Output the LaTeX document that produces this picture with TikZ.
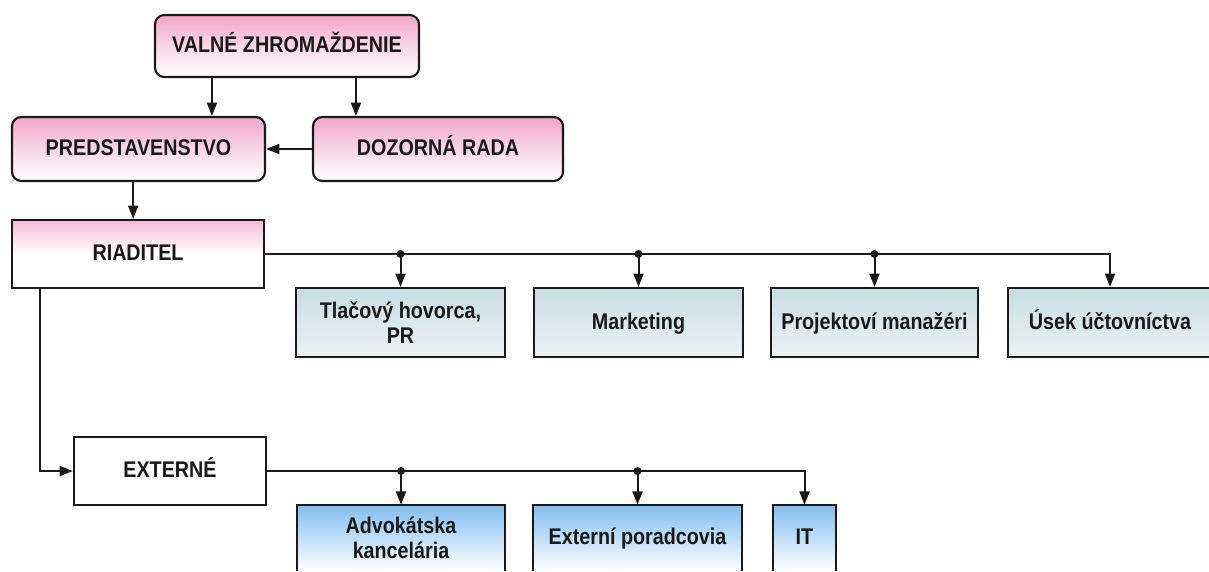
\documentclass[tikz,border=0pt]{standalone}
\usepackage{fontspec}
\setmainfont{Liberation Sans}[FakeStretch=0.87]
\usetikzlibrary{arrows.meta}
\definecolor{pinkA}{RGB}{240,165,200}
\definecolor{cyanA}{RGB}{198,222,228}
\definecolor{cyanB}{RGB}{236,242,243}
\definecolor{blueA}{RGB}{130,190,240}
\definecolor{ink}{RGB}{25,25,25}
\begin{document}
\begin{tikzpicture}[x=0.75pt,y=-0.75pt,
  font=\bfseries\fontsize{17}{19}\selectfont,
  bx/.style 2 args={minimum width=#1*0.75pt, minimum height=#2*0.75pt, inner sep=0pt, align=center, text=ink},
  one/.style={text height=1.0em, text depth=0em},
  boxline/.style={draw=ink, line width=1.6pt},
  pinkbox/.style={boxline, rounded corners=7pt, top color=pinkA, bottom color=white, middle color=pinkA!45},
  riadbox/.style={boxline, top color=pinkA!75, bottom color=white, middle color=white},
  cyanbox/.style={boxline, top color=cyanA, bottom color=cyanB},
  bluebox/.style={top color=blueA, bottom color=white},
  plainbox/.style={boxline, fill=white},
  conn/.style={draw=ink, line width=1.5pt},
  arr/.style={conn, -{Triangle[length=10pt,width=7.5pt]}},
  dot/.style={fill=ink}
]
\useasboundingbox (0,0) rectangle (1209,571);
\clip (0,0) rectangle (1209,571);

% top level
\node[pinkbox, one, bx={264}{62}] (valne) at (287,46) {VALNÉ ZHROMAŽDENIE};
\node[pinkbox, one, bx={253}{64}] (pred) at (138.5,149) {PREDSTAVENSTVO};
\node[pinkbox, one, bx={250}{64}] (doz) at (438,149) {DOZORNÁ RADA};
\node[riadbox, one, bx={252}{68}] (riad) at (138,254) {RIADITEL};

% first row
\node[cyanbox, bx={209}{69}] (tl) at (400.5,322.5) {Tlačový hovorca,\\PR};
\node[cyanbox, one, bx={209}{69}] (mk) at (638.5,322.5) {Marketing};
\node[cyanbox, one, bx={207}{69}] (pm) at (874.5,322.5) {Projektoví manažéri};
\node[cyanbox, one, bx={204}{69}] (us) at (1110,322.5) {Úsek účtovníctva};

% externe
\node[plainbox, one, bx={192}{68}] (ext) at (170,471) {EXTERNÉ};

% second row (cut at bottom)
\node[bluebox, bx={208}{66}] (adv) at (401,538) {Advokátska\\kancelária};
\node[bluebox, one, bx={209}{66}] (exr) at (637.5,538) {Externí poradcovia};
\node[bluebox, one, bx={63}{66}] (it) at (804.5,538) {IT};
\foreach \n in {adv,exr,it}
  \draw[boxline] (\n.south west) -- (\n.north west) -- (\n.north east) -- (\n.south east);

% connectors
\draw[arr] ([xshift=43.5pt]valne.south west) coordinate (v1) -- (v1 |- pred.north);
\draw[arr] ([xshift=151.5pt]valne.south west) coordinate (v2) -- (v2 |- doz.north);
\draw[arr] (doz.west) -- (pred.east);
\draw[arr] ([xshift=-4pt]pred.south) coordinate (p1) -- (p1 |- riad.north);

\draw[arr] (riad.east) -| (us.north);
\foreach \n in {tl,mk,pm}{
  \draw[arr] (riad.east -| \n.north) -- (\n.north);
  \fill[dot] (riad.east -| \n.north) circle (3pt);
}

\draw[arr] ([xshift=21.5pt]riad.south west) |- (ext.west);

\draw[arr] (ext.east) -| (it.north);
\foreach \n in {adv,exr}{
  \draw[arr] (ext.east -| \n.north) -- (\n.north);
  \fill[dot] (ext.east -| \n.north) circle (3pt);
}
\end{tikzpicture}
\end{document}
